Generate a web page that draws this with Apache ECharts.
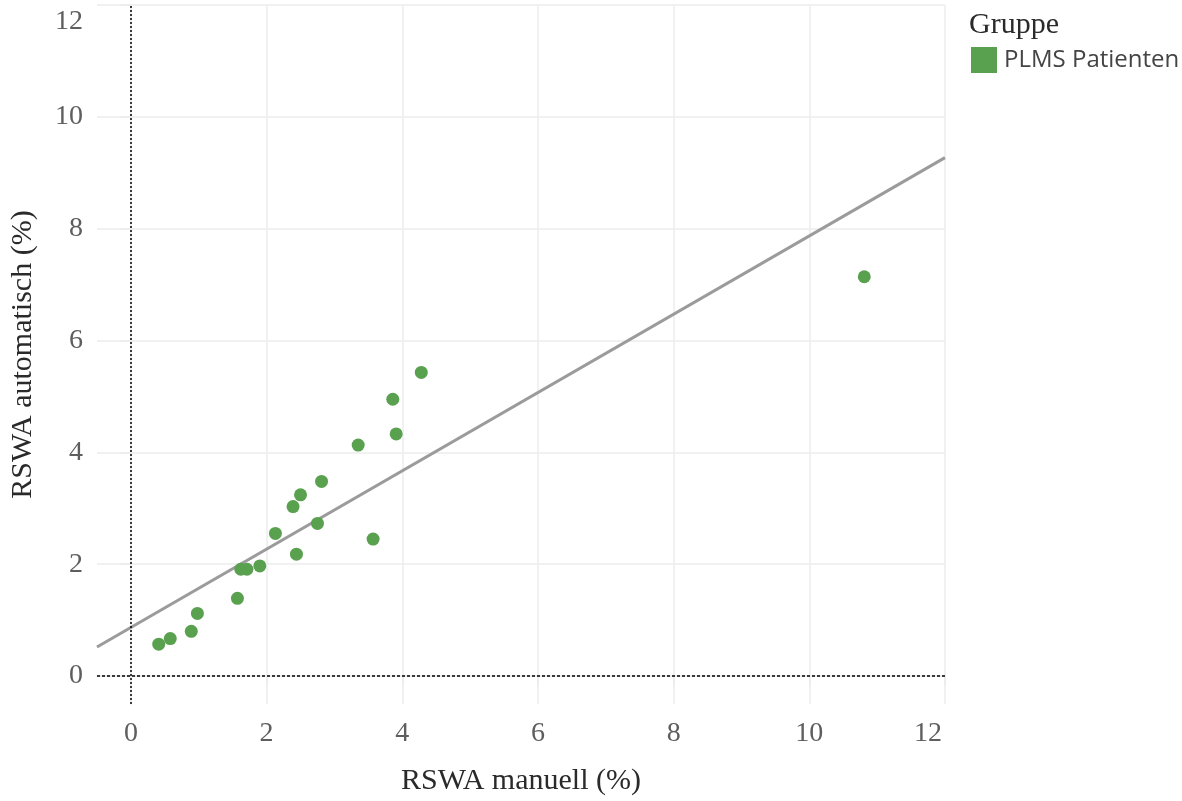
<!DOCTYPE html>
<html>
<head>
<meta charset="utf-8">
<script src="https://cdn.jsdelivr.net/npm/echarts@6/dist/echarts.min.js"></script>
<style>
  html, body { margin: 0; padding: 0; background: #fff; }
  #chart { width: 1182px; height: 801px; }
</style>
</head>
<body>
<div id="chart"></div>
<script>
// RSWA: manual scoring (x) vs automatic scoring (y), in percent
const manuell = [0.41, 0.58, 0.89, 0.98, 1.57, 1.62, 1.71, 1.90, 2.13, 2.39,
                 2.44, 2.50, 2.75, 2.81, 3.35, 3.57, 3.86, 3.91, 4.28, 10.81];
const automatisch = [0.57, 0.67, 0.80, 1.12, 1.39, 1.91, 1.91, 1.97, 2.55, 3.03,
                     2.18, 3.24, 2.73, 3.48, 4.13, 2.45, 4.95, 4.33, 5.43, 7.14];
const tickValues = [0, 2, 4, 6, 8, 10, 12];
const axisRange = [-0.5, 12];
// linear trend: y = intercept + slope * x
const trendIntercept = 0.87;
const trendSlope = 0.70;

const groupName = 'PLMS Patienten';
const points = manuell.map((x, i) => [x, automatisch[i]]);
const trend = axisRange.map(x => [x, trendIntercept + trendSlope * x]);

const serif = '"Liberation Serif", "Times New Roman", serif';
const sans = '"Open Sans", "Noto Sans", sans-serif';

const chart = echarts.init(document.getElementById('chart'), null, { renderer: 'canvas' });

const tickColor = '#5e5e5e';
const gridColor = '#ececec';
const tickFont = 28;

chart.setOption({
  animation: false,
  backgroundColor: '#fff',
  title: {
    text: 'Gruppe',
    left: 964,
    top: 5,
    textStyle: { fontFamily: serif, fontSize: 30, fontWeight: 'normal', color: '#2a2a2a' }
  },
  legend: {
    left: 971,
    top: 47,
    padding: 0,
    icon: 'rect',
    itemWidth: 26,
    itemHeight: 26,
    itemGap: 10,
    data: [groupName],
    textStyle: { fontFamily: sans, fontSize: 24, color: '#444', padding: [4, 0, 0, 2] }
  },
  grid: { left: 96, right: 237, top: 5, bottom: 96, containLabel: false },
  xAxis: {
    type: 'value',
    min: axisRange[0],
    max: axisRange[1],
    splitNumber: 6,
    name: 'RSWA manuell (%)',
    nameLocation: 'middle',
    nameGap: 62,
    nameTextStyle: { fontFamily: serif, fontSize: 30, color: '#2a2a2a' },
    axisLine: { show: true, lineStyle: { color: gridColor, width: 1.5 } },
    axisTick: { show: true, customValues: tickValues, length: 10, lineStyle: { color: gridColor, width: 1.5 } },
    axisLabel: {
      customValues: tickValues,
      margin: 16,
      fontFamily: serif,
      fontSize: tickFont,
      color: tickColor,
      formatter: v => (v === 12 ? '{edge|12}' : String(v)),
      rich: { edge: { fontFamily: serif, fontSize: tickFont, color: tickColor, padding: [0, 34, 0, 0] } }
    },
    splitLine: { show: true, lineStyle: { color: gridColor, width: 1.5 } }
  },
  yAxis: {
    type: 'value',
    min: axisRange[0],
    max: axisRange[1],
    splitNumber: 6,
    name: 'RSWA automatisch (%)',
    nameLocation: 'middle',
    nameGap: 59,
    nameTextStyle: { fontFamily: serif, fontSize: 30, color: '#2a2a2a' },
    axisLine: { show: true, lineStyle: { color: gridColor, width: 1.5 } },
    axisTick: { show: true, customValues: tickValues, length: 10, lineStyle: { color: gridColor, width: 1.5 } },
    axisLabel: {
      customValues: tickValues,
      margin: 14,
      fontFamily: serif,
      fontSize: tickFont,
      color: tickColor,
      formatter: v => (v === 12 ? '{edge|12}' : String(v)),
      rich: { edge: { fontFamily: serif, fontSize: tickFont, color: tickColor, padding: [34, 0, 0, 0] } }
    },
    splitLine: { show: true, lineStyle: { color: gridColor, width: 1.5 } }
  },
  series: [
    {
      name: 'Trend',
      type: 'line',
      data: trend,
      showSymbol: false,
      silent: true,
      z: 2,
      lineStyle: { color: '#9b9b9b', width: 3 },
      markLine: {
        silent: true,
        symbol: ['none', 'none'],
        label: { show: false },
        data: [
          { xAxis: 0, lineStyle: { color: '#000', width: 1.5, type: [2, 2] } },
          { yAxis: 0, lineStyle: { color: '#000', width: 1.5, type: [3, 2] } }
        ]
      }
    },
    {
      name: groupName,
      type: 'scatter',
      data: points,
      symbol: 'circle',
      symbolSize: 13,
      z: 3,
      itemStyle: { color: '#59a14f', opacity: 1 }
    }
  ]
});
</script>
</body>
</html>
